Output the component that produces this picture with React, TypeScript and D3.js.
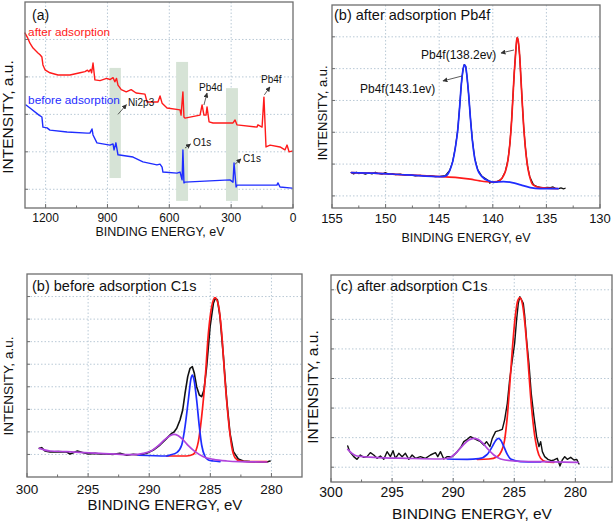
import React from "react";
import * as d3 from "d3";

type Pt = [number, number];

// ---------- (a) survey spectra ----------
const surveyTicks = [1200, 900, 600, 300, 0];
const surveyMinor = [1050, 750, 450, 150];
const surveyGrid = [100, 200, 300, 400, 500];
const surveyAfter: Pt[] = [
  [1300, 517], [1287, 504], [1276, 490], [1261, 477], [1237, 464], [1227, 459], [1218, 453], [1213, 432],
  [1203, 419], [1179, 411], [1140, 405], [1082, 405], [1033, 411], [1009, 414], [997, 418], [990, 414],
  [982, 420], [977, 411], [970, 437], [961, 392], [936, 390], [904, 396], [888, 393], [873, 398],
  [864, 387], [856, 396], [849, 378], [833, 366], [809, 360], [785, 366], [761, 357], [718, 354],
  [708, 333], [655, 333], [645, 349], [635, 330], [611, 317], [548, 312], [543, 298], [534, 360],
  [529, 293], [524, 290], [451, 298], [441, 325], [432, 298], [422, 298], [417, 320], [407, 280],
  [388, 277], [291, 277], [281, 285], [272, 272], [175, 266], [170, 272], [150, 266], [141, 346],
  [131, 213], [111, 218], [63, 213], [39, 205], [29, 218], [19, 200], [5, 202],
];
const surveyBefore: Pt[] = [
  [1295, 325], [1276, 317], [1232, 298], [1218, 293], [1213, 266], [1193, 264], [1179, 258], [1096, 253],
  [999, 250], [985, 250], [975, 261], [970, 245], [951, 224], [888, 218], [873, 221], [868, 205],
  [859, 224], [849, 192], [776, 186], [728, 173], [660, 165], [645, 167], [635, 159], [631, 146],
  [563, 143], [548, 146], [538, 125], [534, 205], [529, 117], [524, 119], [306, 125], [291, 119],
  [286, 170], [276, 106], [272, 111], [78, 111], [73, 117], [63, 106], [5, 103],
];
// bands: [eV high, eV low, intensity top, intensity bottom]
const surveyBands: [number, number, number, number][] = [
  [890, 835, 424, 130],
  [567, 509, 440, 69],
  [325, 267, 370, 69],
];

// ---------- (b) Pb4f after adsorption ----------
const pbTicks = [155, 150, 145, 140, 135, 130];
const pbMinor = [152.5, 147.5, 142.5, 137.5, 132.5];
const pbGrid = [1000, 2000, 3000, 4000, 5000, 6000];
const pbRaw: Pt[] = [
  [153.2, 1734], [152.98, 1692], [152.73, 1745], [152.51, 1703], [152.2, 1723], [151.89, 1682], [151.58, 1723],
  [151.27, 1692], [150.96, 1745], [150.74, 1713], [150.34, 1682], [150.03, 1734], [149.71, 1682], [149.4, 1703],
  [149.09, 1671], [148.63, 1682], [148.16, 1650], [147.7, 1671], [147.23, 1629], [146.76, 1650], [146.3, 1618],
  [145.83, 1640], [145.36, 1607], [144.9, 1618], [144.43, 1640], [144.02, 1800], [143.74, 2085], [143.5, 2510],
  [143.27, 3080], [143.09, 3815], [142.94, 4500], [142.78, 4970], [142.66, 5130], [142.53, 5075], [142.41, 4760],
  [142.25, 4180], [142.1, 3500], [141.91, 2770], [141.69, 2190], [141.41, 1825], [141.01, 1615], [140.38, 1480],
  [140.29, 1399], [140.14, 1450], [139.92, 1418], [139.61, 1450], [139.3, 1503], [139.14, 1560], [138.83, 1770],
  [138.58, 2140], [138.4, 2665], [138.24, 3395], [138.12, 4130], [138.0, 4865], [137.87, 5495], [137.77, 5910],
  [137.71, 5985], [137.62, 5860], [137.49, 5390], [137.37, 4655], [137.25, 3920], [137.12, 3185], [136.97, 2555],
  [136.78, 1980], [136.56, 1612], [136.19, 1346], [135.88, 1293], [135.57, 1272], [135.26, 1252], [134.94, 1272],
  [134.63, 1262], [134.38, 1283], [134.17, 1241], [133.86, 1230], [133.64, 1252], [133.4, 1220], [133.25, 1241],
];
const pbFit138: Pt[] = [
  [153.2, 1733], [151.1, 1714], [148.0, 1660], [144.9, 1607], [143.3, 1576], [142.1, 1525], [141.2, 1472],
  [140.2, 1440], [139.6, 1450], [139.14, 1557], [138.83, 1764], [138.58, 2132], [138.4, 2657], [138.24, 3390],
  [138.12, 4123], [138.0, 4858], [137.87, 5488], [137.77, 5906], [137.71, 5978], [137.62, 5853], [137.49, 5381],
  [137.37, 4648], [137.25, 3915], [137.12, 3180], [136.97, 2551], [136.78, 1975], [136.56, 1607], [136.25, 1346],
  [135.57, 1261], [133.95, 1230],
];
const pbFit143: Pt[] = [
  [153.2, 1733], [151.1, 1714], [148.0, 1660], [144.74, 1607], [144.34, 1638], [144.02, 1796], [143.74, 2079],
  [143.5, 2500], [143.27, 3076], [143.09, 3808], [142.94, 4491], [142.78, 4963], [142.66, 5120], [142.53, 5067],
  [142.41, 4752], [142.25, 4176], [142.1, 3494], [141.91, 2761], [141.69, 2186], [141.41, 1818], [141.01, 1607],
  [140.38, 1472], [139.9, 1431], [139.0, 1450], [138.2, 1418], [137.4, 1346], [136.5, 1261], [135.6, 1230],
  [133.9, 1230],
];

// ---------- (c) C1s before adsorption ----------
const c1Ticks = [300, 295, 290, 285, 280];
const c1Minor = [297.5, 292.5, 287.5, 282.5];
const c1bGrid = [1000, 2000, 3000, 4000, 5000, 6000, 7000, 8000];
const c1bRaw: Pt[] = [
  [298.99, 1271], [298.8, 1301], [298.53, 1153], [298.12, 1108], [297.44, 1123], [296.75, 1108], [296.48, 1020],
  [296.21, 1079], [295.88, 1153], [295.53, 1094], [294.98, 1020], [294.44, 1049], [294.03, 1020], [293.48, 1020],
  [292.93, 1005], [292.39, 1049], [291.84, 961], [291.3, 1005], [290.75, 975], [290.21, 1049], [289.66, 1197],
  [289.12, 1419], [288.57, 1714], [288.16, 1936], [287.97, 1995], [287.75, 2158], [287.48, 2527], [287.26, 2971],
  [287.07, 3710], [286.85, 4449], [286.66, 4818], [286.47, 4892], [286.31, 4597], [286.12, 4005], [285.9, 3636],
  [285.71, 3562], [285.52, 3858], [285.3, 4892], [285.02, 6666], [284.75, 7700], [284.59, 7922], [284.42, 7848],
  [284.21, 7109], [283.93, 5336], [283.66, 3414], [283.39, 1936], [283.11, 1123], [282.71, 798], [282.3, 709],
  [281.75, 680], [280.93, 665], [280.39, 665], [280.11, 709],
];
const c1bFitRed: Pt[] = [
  [288.57, 931], [286.93, 931], [286.39, 1005], [285.98, 1567], [285.71, 2675], [285.43, 4301], [285.16, 6370],
  [284.89, 7553], [284.62, 7952], [284.34, 7626], [284.07, 6370], [283.8, 4301], [283.52, 2527], [283.25, 1345],
  [282.98, 857], [282.57, 709], [281.75, 680], [280.39, 680],
];
const c1bFitBlue: Pt[] = [
  [290.9, 965], [288.57, 931], [288.3, 975], [287.75, 1079], [287.34, 1419], [287.07, 2232], [286.8, 3414],
  [286.58, 4375], [286.47, 4523], [286.33, 4301], [286.12, 3414], [285.9, 2232], [285.71, 1419], [285.43, 902],
  [285.16, 754], [284.75, 709], [284.21, 680],
];
const c1bFitPurple: Pt[] = [
  [298.99, 1271], [298.12, 1153], [296.75, 1123], [294.03, 1049], [291.3, 990], [290.48, 1049], [289.8, 1168],
  [289.25, 1389], [288.71, 1670], [288.3, 1833], [287.97, 1892], [287.62, 1833], [287.21, 1641], [286.8, 1389],
  [286.25, 1123], [285.57, 902], [284.75, 783], [283.66, 709], [282.57, 680], [280.39, 665],
];

// ---------- (d) C1s after adsorption ----------
const c1aGrid = [1000, 2000, 3000, 4000, 5000, 6000, 7000];
const c1aRaw: Pt[] = [
  [298.63, 1717], [298.47, 1526], [298.14, 1357], [297.87, 1266], [297.6, 1413], [297.32, 1334], [297.05, 1357],
  [296.78, 1492], [296.5, 1413], [296.23, 1300], [295.96, 1379], [295.68, 1266], [295.41, 1526], [295.14, 1357],
  [294.92, 1559], [294.73, 1300], [294.45, 1469], [294.18, 1357], [293.91, 1469], [293.63, 1266], [293.36, 1413],
  [293.09, 1300], [292.68, 1357], [292.27, 1300], [291.86, 1413], [291.45, 1492], [291.26, 1357], [291.04, 1526],
  [290.77, 1278], [290.49, 1357], [290.08, 1357], [289.67, 1526], [289.34, 1695], [289.13, 1864], [288.85, 1943],
  [288.58, 2033], [288.31, 1976], [288.03, 1920], [287.76, 1864], [287.49, 1751], [287.27, 1864], [286.99, 1695],
  [286.8, 1976], [286.53, 2202], [286.26, 2236], [285.98, 2281], [285.79, 2596], [285.57, 3160], [285.38, 3949],
  [285.16, 4625], [284.97, 5188], [284.81, 5977], [284.67, 6541], [284.54, 6766], [284.4, 6653], [284.26, 6541],
  [284.15, 6146], [283.99, 5301], [283.8, 4512], [283.61, 3498], [283.39, 2709], [283.17, 2033], [282.98, 1695],
  [282.84, 1864], [282.7, 1526], [282.51, 1357], [282.24, 1266], [281.97, 1221], [281.75, 1244], [281.48, 1300],
  [281.26, 1041], [281.07, 1244], [280.87, 1357], [280.66, 1266], [280.38, 1334], [280.11, 1244], [279.89, 1266],
  [279.7, 1109],
];
const c1aFitRed: Pt[] = [
  [288.03, 1266], [287.08, 1278], [286.39, 1357], [286.07, 1526], [285.79, 1920], [285.57, 2709], [285.36, 3836],
  [285.14, 5076], [284.92, 6090], [284.7, 6653], [284.54, 6732], [284.34, 6541], [284.13, 5865], [283.88, 4625],
  [283.66, 3385], [283.39, 2258], [283.11, 1582], [282.84, 1300], [282.43, 1187], [281.75, 1165],
];
const c1aFitBlue: Pt[] = [
  [290.49, 1278], [288.85, 1266], [287.9, 1289], [287.21, 1435], [286.8, 1695], [286.53, 1897], [286.31, 1976],
  [286.12, 1920], [285.85, 1695], [285.57, 1435], [285.25, 1266], [284.48, 1187], [282.84, 1176],
];
const c1aFitPurple: Pt[] = [
  [298.63, 1604], [298.28, 1469], [297.87, 1379], [296.5, 1334], [293.77, 1300], [291.04, 1278], [290.36, 1311],
  [289.95, 1413], [289.54, 1582], [289.13, 1774], [288.72, 1920], [288.31, 1976], [287.98, 1943], [287.62, 1830],
  [287.21, 1638], [286.67, 1413], [286.12, 1278], [285.03, 1210], [282.84, 1187], [279.78, 1165],
];

const FONT = "'Liberation Sans', Arial, Helvetica, sans-serif";
const RED = "#ff1a1a";
const BLUE = "#1f2dff";
const PURPLE = "#b044dc";
const BLACK = "#111111";
const GRID = "#b9c9d6";
const AXIS = "#6e6e6e";

type Box = { l: number; r: number; t: number; b: number };
type Sc = d3.ScaleLinear<number, number>;

interface PanelProps {
  box: Box;
  xDomain: [number, number];
  yDomain: [number, number];
  xTicks: number[];
  xMinor: number[];
  xGrid: number[];
  yGrid: number[];
  tickFont: number;
  tickOffset: number;
  children: (x: Sc, y: Sc) => React.ReactNode;
}

function Panel(p: PanelProps) {
  const x = d3.scaleLinear().domain(p.xDomain).range([p.box.l, p.box.r]);
  const y = d3.scaleLinear().domain(p.yDomain).range([p.box.b, p.box.t]);
  const { l, r, t, b } = p.box;
  return (
    <g>
      {p.yGrid.map((v) => (
        <line key={"yg" + v} x1={l} x2={r} y1={y(v)} y2={y(v)} stroke={GRID} strokeWidth={1} strokeDasharray="1.5,2" />
      ))}
      {p.xGrid.map((v) => (
        <line key={"xg" + v} x1={x(v)} x2={x(v)} y1={t} y2={b} stroke={GRID} strokeWidth={1} strokeDasharray="1.5,2" />
      ))}
      {p.children(x, y)}
      <rect x={l} y={t} width={r - l} height={b - t} fill="none" stroke={AXIS} strokeWidth={1.3} />
      {p.xTicks.map((v) => (
        <line key={"xt" + v} x1={x(v)} x2={x(v)} y1={b} y2={b - 4} stroke={AXIS} strokeWidth={1} />
      ))}
      {p.xMinor.map((v) => (
        <line key={"xm" + v} x1={x(v)} x2={x(v)} y1={b} y2={b - 2.5} stroke={AXIS} strokeWidth={1} />
      ))}
      {p.yGrid.map((v) => (
        <line key={"yt" + v} x1={l} x2={l + 3} y1={y(v)} y2={y(v)} stroke={AXIS} strokeWidth={1} />
      ))}
      {p.xTicks.map((v) => (
        <text key={"xl" + v} x={x(v)} y={b + p.tickOffset} dy="0.35em" textAnchor="middle" fontSize={p.tickFont} fill="#111" fontFamily={FONT}>
          {v}
        </text>
      ))}
    </g>
  );
}

function Line({ data, x, y, color, width, smooth }: { data: Pt[]; x: Sc; y: Sc; color: string; width: number; smooth?: boolean }) {
  const gen = d3
    .line<Pt>()
    .x((d) => x(d[0]))
    .y((d) => y(d[1]))
    .curve(smooth ? d3.curveMonotoneX : d3.curveLinear);
  return <path d={gen(data) || ""} fill="none" stroke={color} strokeWidth={width} strokeLinejoin="round" strokeLinecap="round" />;
}

function Arrow({ x1, y1, x2, y2 }: { x1: number; y1: number; x2: number; y2: number }) {
  return <line x1={x1} y1={y1} x2={x2} y2={y2} stroke="#333" strokeWidth={0.8} markerEnd="url(#arrowHead)" />;
}

function Label({ x, y, size, children, color = "#111", anchor = "start" }: any) {
  return (
    <text x={x} y={y} dy="0.35em" fontSize={size} fill={color} fontFamily={FONT} textAnchor={anchor}>
      {children}
    </text>
  );
}

function YTitle({ x, y, size }: { x: number; y: number; size: number }) {
  return (
    <text transform={`translate(${x},${y}) rotate(-90)`} dy="0.35em" textAnchor="middle" fontSize={size} fill="#111" fontFamily={FONT}>
      INTENSITY, a.u.
    </text>
  );
}

function XTitle({ x, y, size }: { x: number; y: number; size: number }) {
  return (
    <text x={x} y={y} dy="0.35em" textAnchor="middle" fontSize={size} fill="#111" fontFamily={FONT}>
      BINDING ENERGY, eV
    </text>
  );
}

export default function App() {
  return (
    <svg width={614} height={523} style={{ position: "absolute", left: 0, top: 0, background: "#fff" }}>
      <defs>
        <marker id="arrowHead" viewBox="0 0 10 10" refX="9" refY="5" markerUnits="userSpaceOnUse" markerWidth="5" markerHeight="5" orient="auto">
          <path d="M0,0L10,5L0,10z" fill="#333" />
        </marker>
      </defs>
      <rect x={0} y={0} width={614} height={523} fill="#fff" />

      {/* (a) survey */}
      <Panel
        box={{ l: 25, r: 293, t: 2, b: 208 }}
        xDomain={[1300, 0]}
        yDomain={[50, 600]}
        xTicks={surveyTicks}
        xMinor={surveyMinor}
        xGrid={[1200, 900, 600, 300]}
        yGrid={surveyGrid}
        tickFont={12}
        tickOffset={10}
      >
        {(x, y) => (
          <g>
            {surveyBands.map((bd, i) => (
              <rect key={i} x={x(bd[0])} y={y(bd[2])} width={x(bd[1]) - x(bd[0])} height={y(bd[3]) - y(bd[2])} fill="#d6e3d6" />
            ))}
            <Line data={surveyAfter} x={x} y={y} color={RED} width={1.4} />
            <Line data={surveyBefore} x={x} y={y} color={BLUE} width={1.4} />
            <Label x={x(1285)} y={y(520)} size={11.8} color={RED}>after adsorption</Label>
            <Label x={x(1285)} y={y(338)} size={11.8} color={BLUE}>before adsorption</Label>
            <Arrow x1={x(849)} y1={y(300)} x2={x(808)} y2={y(326)} />
            <Label x={x(800)} y={y(333)} size={10}>Ni2p3</Label>
            <Arrow x1={x(524)} y1={y(210)} x2={x(497)} y2={y(221)} />
            <Label x={x(485)} y={y(224)} size={10}>O1s</Label>
            <Arrow x1={x(281)} y1={y(167)} x2={x(252)} y2={y(181)} />
            <Label x={x(242)} y={y(183)} size={10}>C1s</Label>
            <Arrow x1={x(432)} y1={y(325)} x2={x(417)} y2={y(357)} />
            <Label x={x(456)} y={y(373)} size={10}>Pb4d</Label>
            <Arrow x1={x(139)} y1={y(352)} x2={x(112)} y2={y(373)} />
            <Label x={x(155)} y={y(392)} size={10}>Pb4f</Label>
          </g>
        )}
      </Panel>
      <Label x={32} y={15} size={14}>(a)</Label>
      <YTitle x={8} y={117} size={15.5} />
      <XTitle x={160} y={232} size={12.5} />

      {/* (b) Pb4f */}
      <Panel
        box={{ l: 332, r: 600, t: 5, b: 208 }}
        xDomain={[155, 130]}
        yDomain={[620, 7000]}
        xTicks={pbTicks}
        xMinor={pbMinor}
        xGrid={[150, 145, 140, 135]}
        yGrid={pbGrid}
        tickFont={13}
        tickOffset={10}
      >
        {(x, y) => (
          <g>
            <Line data={pbRaw} x={x} y={y} color={BLACK} width={1.2} />
            <Line data={pbFit138} x={x} y={y} color={RED} width={1.7} smooth />
            <Line data={pbFit143} x={x} y={y} color={BLUE} width={1.7} smooth />
            <Arrow x1={x(138.02)} y1={y(5586)} x2={x(139.24)} y2={y(5491)} />
            <Label x={x(146.7)} y={y(5429)} size={12}>Pb4f(138.2ev)</Label>
            <Arrow x1={x(142.87)} y1={y(4769)} x2={x(144.65)} y2={y(4612)} />
            <Label x={x(152.39)} y={y(4360)} size={12}>Pb4f(143.1ev)</Label>
          </g>
        )}
      </Panel>
      <Label x={334} y={15} size={14.5}>(b) after adsorption Pb4f</Label>
      <YTitle x={322} y={113} size={13} />
      <XTitle x={466} y={238} size={12.5} />

      {/* (c) C1s before */}
      <Panel
        box={{ l: 27, r: 302, t: 274, b: 477 }}
        xDomain={[300, 277.5]}
        yDomain={[0, 9000]}
        xTicks={c1Ticks}
        xMinor={c1Minor}
        xGrid={[295, 290, 285, 280]}
        yGrid={c1bGrid}
        tickFont={13.5}
        tickOffset={12}
      >
        {(x, y) => (
          <g>
            <Line data={c1bRaw} x={x} y={y} color={BLACK} width={1.6} />
            <Line data={c1bFitRed} x={x} y={y} color={RED} width={1.7} smooth />
            <Line data={c1bFitBlue} x={x} y={y} color={BLUE} width={1.7} smooth />
            <Line data={c1bFitPurple} x={x} y={y} color={PURPLE} width={1.7} smooth />
          </g>
        )}
      </Panel>
      <Label x={32} y={286} size={14.5}>(b) before adsorption C1s</Label>
      <YTitle x={8} y={386} size={13.5} />
      <XTitle x={165} y={505} size={15} />

      {/* (d) C1s after */}
      <Panel
        box={{ l: 331, r: 612, t: 275, b: 482 }}
        xDomain={[300, 277]}
        yDomain={[500, 7500]}
        xTicks={c1Ticks}
        xMinor={c1Minor}
        xGrid={[295, 290, 285, 280]}
        yGrid={c1aGrid}
        tickFont={14}
        tickOffset={10}
      >
        {(x, y) => (
          <g>
            <Line data={c1aRaw} x={x} y={y} color={BLACK} width={1.4} />
            <Line data={c1aFitRed} x={x} y={y} color={RED} width={1.7} smooth />
            <Line data={c1aFitBlue} x={x} y={y} color={BLUE} width={1.7} smooth />
            <Line data={c1aFitPurple} x={x} y={y} color={PURPLE} width={1.7} smooth />
          </g>
        )}
      </Panel>
      <Label x={336} y={286} size={14.5}>(c) after adsorption C1s</Label>
      <YTitle x={313} y={387} size={15.5} />
      <XTitle x={472} y={514} size={15.5} />
    </svg>
  );
}
